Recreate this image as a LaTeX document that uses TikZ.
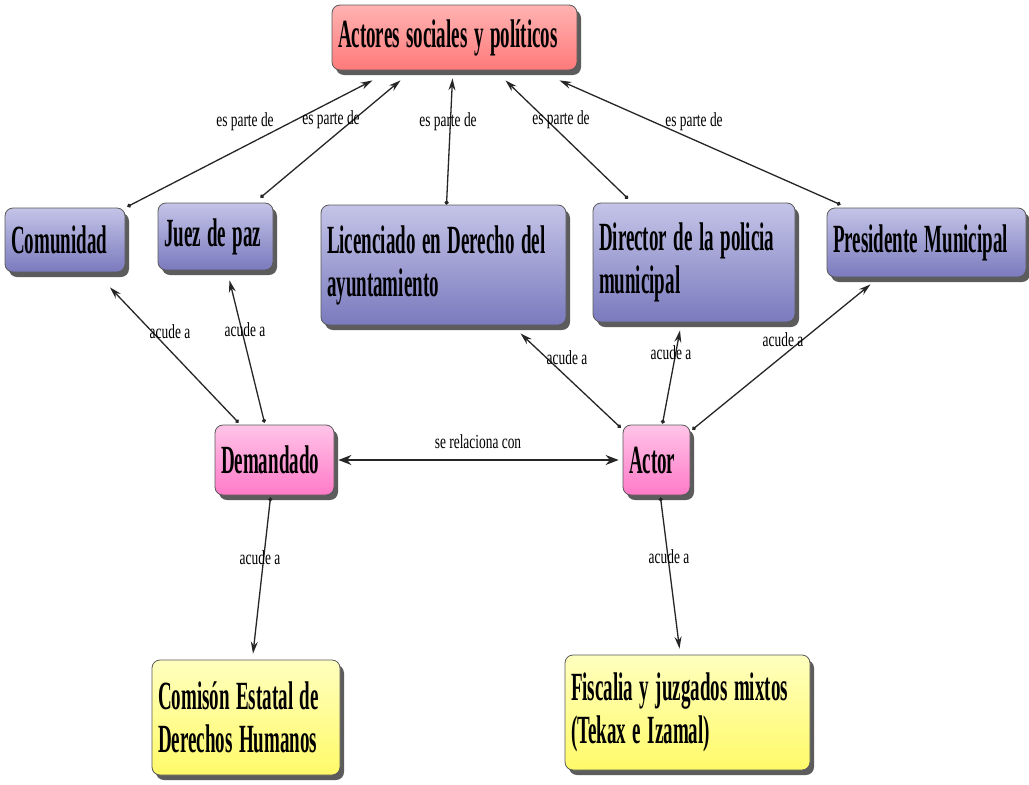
\documentclass[tikz,border=0pt]{standalone}
\usepackage{fontspec}
\setmainfont{Liberation Serif}
\newfontfamily\boxfont[FakeStretch=0.475]{Liberation Serif}
\newfontfamily\labfont[FakeStretch=0.67]{Liberation Serif}
\newcommand\tx[1]{\spaceskip=6.5pt\relax\mbox{#1}}
\usetikzlibrary{shadows,arrows.meta,calc}
\definecolor{redtop}{RGB}{255,178,178}
\definecolor{redbot}{RGB}{255,122,122}
\definecolor{bluetop}{RGB}{196,196,232}
\definecolor{bluebot}{RGB}{122,122,190}
\definecolor{pinktop}{RGB}{255,196,232}
\definecolor{pinkbot}{RGB}{255,122,200}
\definecolor{yeltop}{RGB}{255,255,190}
\definecolor{yelbot}{RGB}{255,250,105}
\begin{document}
\begin{tikzpicture}[x=1pt,y=-1pt,
  box/.style={draw=black!65, line width=0.8pt, rounded corners=8pt,
    inner xsep=6pt, inner ysep=0pt, align=left,
    font=\boxfont\bfseries\fontsize{40}{43}\selectfont,
    drop shadow={shadow xshift=4pt, shadow yshift=-5pt, fill=black!75, opacity=0.85}},
  redbox/.style={box, top color=redtop, bottom color=redbot},
  bluebox/.style={box, top color=bluetop, bottom color=bluebot},
  pinkbox/.style={box, top color=pinktop, bottom color=pinkbot},
  yelbox/.style={box, top color=yeltop, bottom color=yelbot},
  lab/.style={inner sep=0pt, font=\labfont\fontsize{20}{22}\selectfont},
  conn/.style={{Circle[length=4pt]}-{Stealth[length=12pt,width=7pt]}, line width=1.3pt, black!85},
  both/.style={{Stealth[length=13pt,width=10pt]}-{Stealth[length=13pt,width=10pt]}, line width=1.4pt, black!85}
]
\fill[white] (0,0) rectangle (1029,785);
\useasboundingbox (0,0) rectangle (1029,785);

\node[redbox, text width=233pt, minimum height=65pt] (A) at (454.5,37.5) {\tx{Actores sociales y políticos}};
\node[bluebox, text width=108pt, minimum height=64pt] (com) at (65,240) {\tx{Comunidad}};
\node[bluebox, text width=103pt, minimum height=67pt] (juez) at (215.5,236.5) {\tx{Juez de paz}};
\node[bluebox, text width=233pt, minimum height=120pt] (lic) at (443.5,265) {\tx{Licenciado en Derecho del}\\\tx{ayuntamiento}};
\node[bluebox, text width=190pt, minimum height=119pt] (dir) at (694,262.5) {\tx{Director de la policia}\\\tx{municipal}};
\node[bluebox, text width=187pt, minimum height=69pt] (pres) at (926.5,242.5) {\tx{Presidente Municipal}};
\node[pinkbox, text width=107pt, minimum height=70pt] (dem) at (274.5,460) {\tx{Demandado}};
\node[pinkbox, text width=55pt, minimum height=70pt] (act) at (656.5,460) {\tx{Actor}};
\node[yelbox, text width=176pt, minimum height=115pt] (cedh) at (246,717.5) {\tx{Comisón Estatal de}\\\tx{Derechos Humanos}};
\node[yelbox, text width=233pt, minimum height=115pt] (fis) at (687.5,712.5) {\tx{Fiscalia y juzgados mixtos}\\\tx{(Tekax e Izamal)}};

% es parte de
\draw[conn] ($(com.north east)+(2,-1)$) -- ($(A.south)+(-82,10)$);
\draw[conn] ($(juez.north)+(45,-5)$) -- ($(A.south)+(-54,10)$);
\draw[conn] ($(lic.north)+(3,0)$) -- ($(A.south)+(-2,8)$);
\draw[conn] ($(dir.north)+(-66,-4)$) -- ($(A.south)+(51,10)$);
\draw[conn] ($(pres.north)+(-86,-3)$) -- ($(A.south)+(105,10)$);
\node[lab] (l1) at (245,122) {es parte de};
\node[lab] (l2) at (331,120) {es parte de};
\node[lab] (l3) at (448,122) {es parte de};
\node[lab] (l4) at (561,120) {es parte de};
\node[lab] (l5) at (694,122) {es parte de};

% acude a
\draw[conn] ($(dem.north)+(-36,-2)$) -- ($(com.south)+(45,15)$);
\draw[conn] ($(dem.north)+(-10,-2)$) -- ($(juez.south)+(14,10)$);
\draw[conn] ($(act.north west)+(-2,3)$) -- ($(lic.south)+(77,8)$);
\draw[conn] ($(act.north)+(6,-1)$) -- ($(dir.south)+(-14,8)$);
\draw[conn] ($(act.north east)+(2,5)$) -- ($(pres.south)+(-56,7)$);
\draw[conn] ($(dem.south)+(-4,2)$) -- ($(cedh.north)+(7,-6)$);
\draw[conn] ($(act.south)+(4,2)$) -- ($(fis.north)+(-8,-6)$);
\node[lab] (l6) at (170,332) {acude a};
\node[lab] (l7) at (245,330) {acude a};
\node[lab] (l8) at (567,358) {acude a};
\node[lab] (l9) at (671,353) {acude a};
\node[lab] (l10) at (783,340) {acude a};
\node[lab] (l12) at (260,558) {acude a};
\node[lab] (l13) at (669,557) {acude a};

% se relaciona con
\draw[both] ($(dem.east)+(4,0)$) -- ($(act.west)+(-4,0)$);
\node[lab] (l11) at (478,442) {se relaciona con};
\end{tikzpicture}
\end{document}
